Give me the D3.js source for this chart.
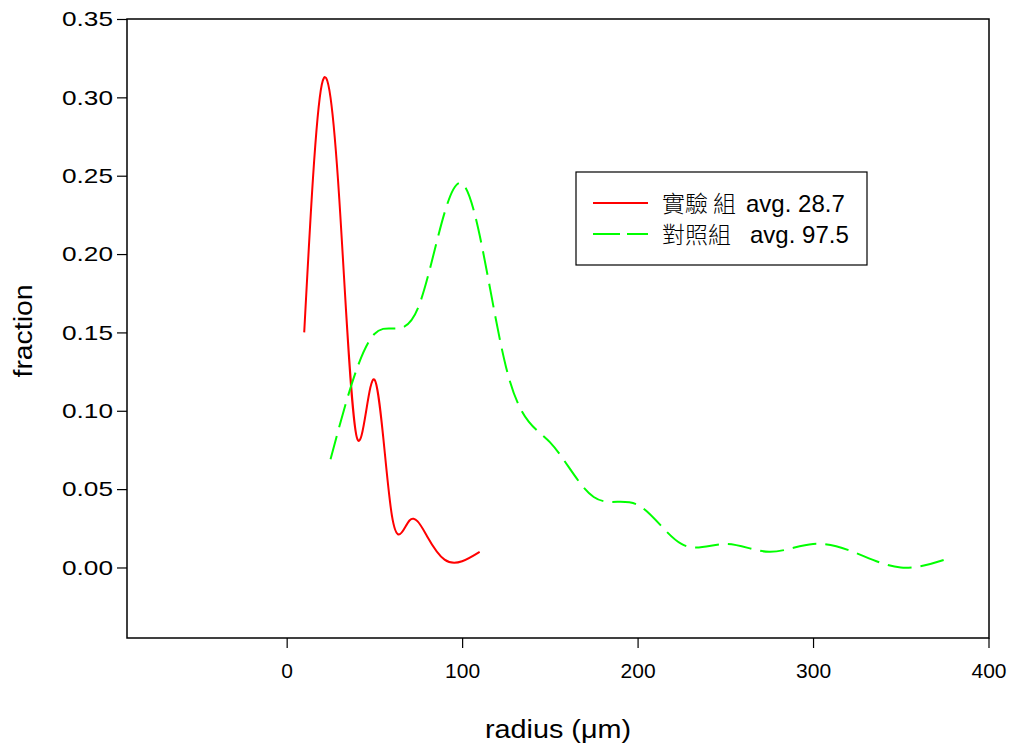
<!DOCTYPE html>
<html>
<head>
<meta charset="utf-8">
<script src="https://cdn.jsdelivr.net/npm/d3@7"></script>
<style>
  html, body { margin: 0; padding: 0; background: #fff; }
  svg { display: block; }
  text { font-family: Arial, "Liberation Sans", Helvetica, sans-serif; fill: #000; }
  .cjk { font-family: "Noto Sans CJK TC", "Noto Sans CJK SC", sans-serif; font-weight: 300; }
</style>
</head>
<body>
<svg id="chart" width="1015" height="751"></svg>
<script>
// Particle radius distributions (fraction per radius bin)
const expRadius  = [10, 20, 30, 40, 50, 60, 70, 80, 90, 100, 110];
const expFrac    = [0.150, 0.308, 0.235, 0.083, 0.120, 0.033, 0.030, 0.020, 0.005, 0.004, 0.010];

const ctrlRadius = [25, 50, 75, 100, 125, 150, 175, 200, 225, 250, 275, 300, 325, 350, 375];
const ctrlFrac   = [0.069, 0.149, 0.166, 0.245, 0.128, 0.080, 0.045, 0.040, 0.015, 0.015, 0.010, 0.015, 0.009, 0.000, 0.005];

const xTicks = [0, 100, 200, 300, 400];
const yTicks = [0.00, 0.05, 0.10, 0.15, 0.20, 0.25, 0.30, 0.35];

const legendNames = ["實驗 組", "對照組"];
const legendAvgs  = ["avg. 28.7", "avg. 97.5"];

const svg = d3.select("#chart");
const plot = { left: 127, right: 989, top: 19, bottom: 638 };

const x = d3.scaleLinear().domain([-91, 400]).range([plot.left, 988.5]);
const y = d3.scaleLinear().domain([-0.045, 0.35]).range([plot.bottom, plot.top]);

// Frame
svg.append("rect")
  .attr("x", plot.left).attr("y", plot.top)
  .attr("width", plot.right - plot.left).attr("height", plot.bottom - plot.top)
  .attr("fill", "none").attr("stroke", "#000").attr("stroke-width", 1.5);

// Y axis
const yAxis = d3.axisLeft(y).tickValues(yTicks).tickFormat(d3.format(".2f"))
  .tickSize(10).tickPadding(14);
const gy = svg.append("g").attr("transform", `translate(${plot.left},0)`).call(yAxis);
gy.select(".domain").remove();
gy.selectAll(".tick line").attr("stroke", "#000").attr("stroke-width", 1.2);
gy.selectAll(".tick text")
  .attr("x", -14)
  .attr("font-size", 21).attr("font-family", "Arial, 'Liberation Sans', sans-serif")
  .attr("fill", "#000")
  .attr("textLength", 51).attr("lengthAdjust", "spacingAndGlyphs");

// X axis
const xAxis = d3.axisBottom(x).tickValues(xTicks).tickFormat(d3.format("d"))
  .tickSize(10).tickPadding(15);
const gx = svg.append("g").attr("transform", `translate(0,${plot.bottom})`).call(xAxis);
gx.select(".domain").remove();
gx.selectAll(".tick line").attr("stroke", "#000").attr("stroke-width", 1.2);
gx.selectAll(".tick text").attr("font-size", 21).attr("font-family", "Arial, 'Liberation Sans', sans-serif")
  .attr("fill", "#000");

// Axis titles
svg.append("text")
  .attr("x", 558).attr("y", 738)
  .attr("text-anchor", "middle").attr("font-size", 26)
  .attr("textLength", 146).attr("lengthAdjust", "spacingAndGlyphs")
  .text("radius (μm)");

svg.append("text")
  .attr("transform", "translate(32,331) rotate(-90)")
  .attr("text-anchor", "middle").attr("font-size", 26)
  .attr("textLength", 93).attr("lengthAdjust", "spacingAndGlyphs")
  .text("fraction");

// Curves
const line = d3.line().x(d => x(d[0])).y(d => y(d[1])).curve(d3.curveNatural);

svg.append("path")
  .datum(d3.zip(expRadius, expFrac))
  .attr("d", line)
  .attr("fill", "none").attr("stroke", "#ff0000").attr("stroke-width", 2);

svg.append("path")
  .datum(d3.zip(ctrlRadius, ctrlFrac))
  .attr("d", line)
  .attr("fill", "none").attr("stroke", "#00ff00").attr("stroke-width", 2)
  .attr("stroke-dasharray", "24,9");

// Legend
const lg = svg.append("g");
lg.append("rect")
  .attr("x", 576).attr("y", 172).attr("width", 291).attr("height", 93)
  .attr("fill", "#fff").attr("stroke", "#000").attr("stroke-width", 1.2);

const legendItems = [
  { color: "#ff0000", dash: null,   name: legendNames[0], avg: legendAvgs[0], avgX: 746 },
  { color: "#00ff00", dash: "27,7", name: legendNames[1], avg: legendAvgs[1], avgX: 750 }
];
legendItems.forEach((it, i) => {
  const cy = 203 + i * 31;
  lg.append("line")
    .attr("x1", 593).attr("x2", 648).attr("y1", cy).attr("y2", cy)
    .attr("stroke", it.color).attr("stroke-width", 2)
    .attr("stroke-dasharray", it.dash);
  lg.append("text")
    .attr("class", "cjk")
    .attr("x", 662).attr("y", cy + 9).attr("font-size", 23)
    .style("white-space", "pre")
    .text(it.name);
  lg.append("text")
    .attr("x", it.avgX).attr("y", cy + 9).attr("font-size", 24)
    .text(it.avg);
});
</script>
</body>
</html>
